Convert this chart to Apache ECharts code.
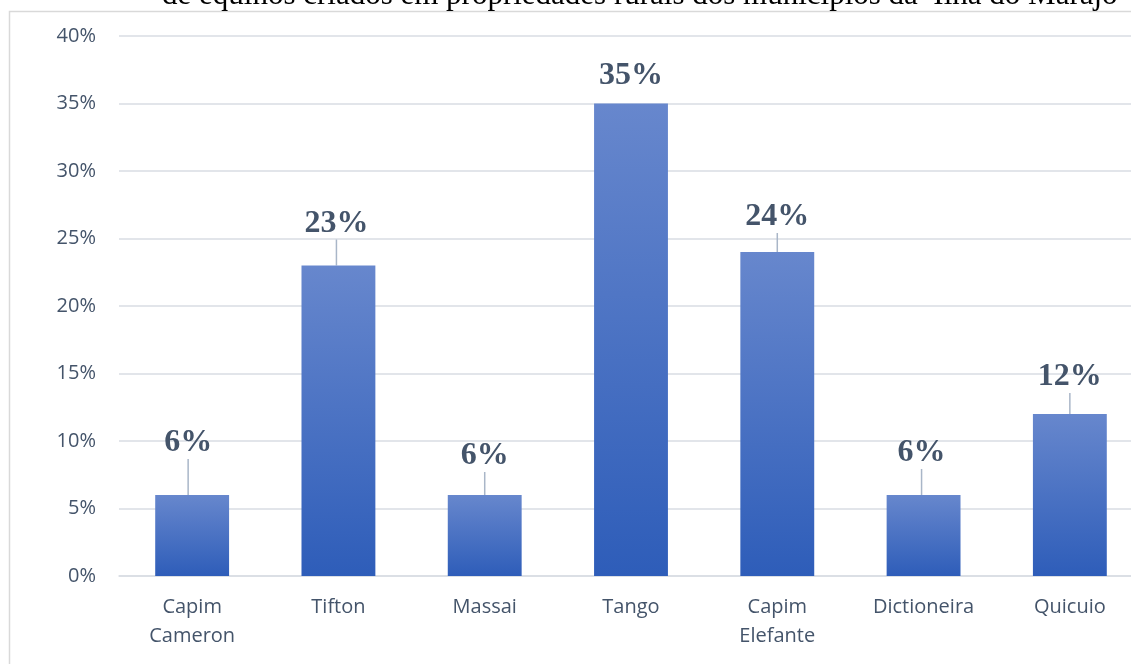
<!DOCTYPE html>
<html><head><meta charset="utf-8">
<script src="https://cdn.jsdelivr.net/npm/echarts@6/dist/echarts.min.js"></script>
<style>html,body{margin:0;padding:0;background:#fff}#c{width:1131px;height:664px}</style>
</head><body><div id="c"></div>
<script>
const categories = ['Capim\nCameron', 'Tifton', 'Massai', 'Tango', 'Capim\nElefante', 'Dictioneira', 'Quicuio'];
const values = [6, 23, 6, 35, 24, 6, 12];
const yTicks = [0, 5, 10, 15, 20, 25, 30, 35, 40];
const titleText = 'de equinos criados em propriedades rurais dos municípios da  Ilha do Marajó';
const labelLift = [55, 45, 42, 31, 38, 45, 40];
const labelShiftX = [-4, -2, 0, 0, 0, -2, 0];
const showLeader = [true, true, true, false, true, true, true];

const chart = echarts.init(document.getElementById('c'));
chart.setOption({
  animation: false,
  graphic: [
    { type: 'rect', shape: { x: 9.5, y: 11.5, width: 1200, height: 700 }, style: { fill: 'none', stroke: '#d9d9d9', lineWidth: 1.5 }, z: -1 },
    { type: 'text', left: 162, top: -20, style: { text: titleText, font: '31px "Liberation Serif"', fill: '#000' } }
  ],
  grid: { left: 119, width: 1024, top: 36, bottom: 88, outerBoundsMode: 'none', containLabel: false },
  xAxis: {
    type: 'category', data: categories,
    axisLine: { lineStyle: { color: '#d9dde3', width: 1.5 } },
    axisTick: { show: false },
    axisLabel: { color: '#44546a', fontSize: 20, fontFamily: '"Open Sans", sans-serif', lineHeight: 29, margin: 17, interval: 0 }
  },
  yAxis: {
    type: 'value', min: 0, max: 40, interval: 5,
    axisLine: { show: false }, axisTick: { show: false },
    splitLine: { lineStyle: { color: '#d9dde3', width: 1.5 } },
    axisLabel: { color: '#44546a', fontSize: 20, fontFamily: '"Open Sans", sans-serif', margin: 23, formatter: v => yTicks.includes(v) ? v + '%' : '' }
  },
  series: [{
    type: 'bar',
    data: values.map((v, i) => ({ value: v, labelLine: { show: showLeader[i] } })),
    barWidth: '50.5%',
    itemStyle: { color: new echarts.graphic.LinearGradient(0, 0, 0, 1, [{ offset: 0, color: '#6787cd' }, { offset: 1, color: '#2e5db9' }]) },
    label: { show: true, position: 'top', distance: 0, formatter: p => p.value + '%', color: '#44546a', fontSize: 32, fontWeight: 'bold', fontFamily: '"Liberation Serif", "Times New Roman", serif' },
    labelLayout: p => ({ dx: labelShiftX[p.dataIndex], dy: -labelLift[p.dataIndex] + 19 }),
    labelLine: { show: true, lineStyle: { color: '#a9b6c8', width: 1.5 } }
  }]
});
</script></body></html>
